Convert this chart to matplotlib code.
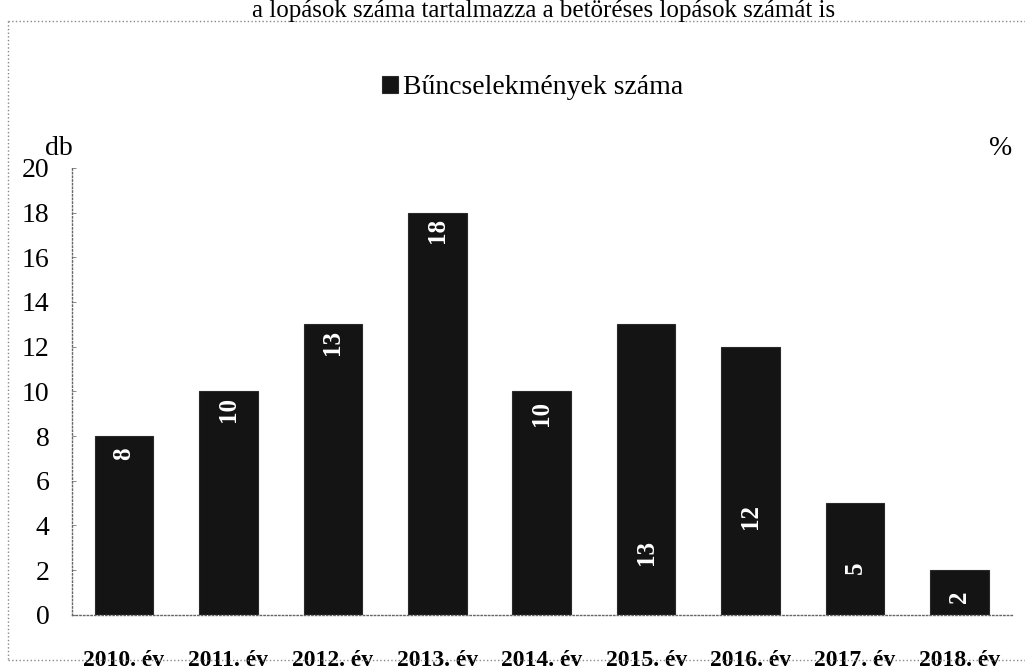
import matplotlib.pyplot as plt
from matplotlib.lines import Line2D

years = ["2010. év", "2011. év", "2012. év", "2013. év", "2014. év",
         "2015. év", "2016. év", "2017. év", "2018. év"]
counts = [8, 10, 13, 18, 10, 13, 12, 5, 2]
# height (in axis units) at which each value label sits inside its bar
label_y = [7.2, 9.2, 12.2, 17.2, 9.0, 2.8, 4.4, 2.1, 0.8]

series_name = "Bűncselekmények száma"
note = "a lopások száma tartalmazza a betöréses lopások számát is"

plt.rcParams['font.family'] = ['Liberation Serif', 'DejaVu Serif']

fig = plt.figure(figsize=(10.25, 6.69), dpi=100)
ax = fig.add_axes([0.070, 0.081, 0.917, 0.668])

x = range(len(years))
bars = ax.bar(x, counts, width=0.56, color="#141414", edgecolor="#2a2a2a",
              linewidth=0.8, label=series_name, zorder=2)

for b, v, ly in zip(bars, counts, label_y):
    cx = b.get_x() + b.get_width() / 2
    ax.text(cx, ly, str(v), rotation=90, ha="center", va="center",
            color="white", fontsize=18, fontweight="bold", zorder=3)

ax.set_xlim(-0.5, len(years) - 0.5)
ax.set_ylim(0, 20)
ax.set_yticks(range(0, 21, 2))
ax.set_xticks(list(x))
ax.set_xticklabels(years, fontsize=17, fontweight="bold")
ax.tick_params(axis="x", length=0, pad=25)
ax.tick_params(axis="y", labelsize=20, length=3, width=0.6, color="#777777",
               direction="in", pad=16)

for side in ["top", "right"]:
    ax.spines[side].set_visible(False)
for side in ["left", "bottom"]:
    ax.spines[side].set_linestyle(":")
    ax.spines[side].set_color("#666666")
    ax.spines[side].set_linewidth(1.0)

fig.text(0.044, 0.778, "db", fontsize=20, ha="left", va="center")
fig.text(0.976, 0.778, "%", fontsize=20, ha="center", va="center")

ax.legend(loc="center", bbox_to_anchor=(0.52, 0.8685), bbox_transform=fig.transFigure,
          frameon=False, fontsize=20, handlelength=0.55, handleheight=0.55,
          handletextpad=0.2)

fig.text(0.53, 1.0, note, fontsize=18, ha="center", va="top")

# dotted frame of the scanned figure
frame = dict(color="#888888", linestyle=":", linewidth=1.0, transform=fig.transFigure)
fig.add_artist(Line2D([0.008, 1.0], [0.968, 0.968], **frame))
fig.add_artist(Line2D([0.008, 0.008], [0.968, 0.013], **frame))
fig.add_artist(Line2D([0.008, 1.0], [0.013, 0.013], **frame))

fig.savefig("out.png", dpi=100)
